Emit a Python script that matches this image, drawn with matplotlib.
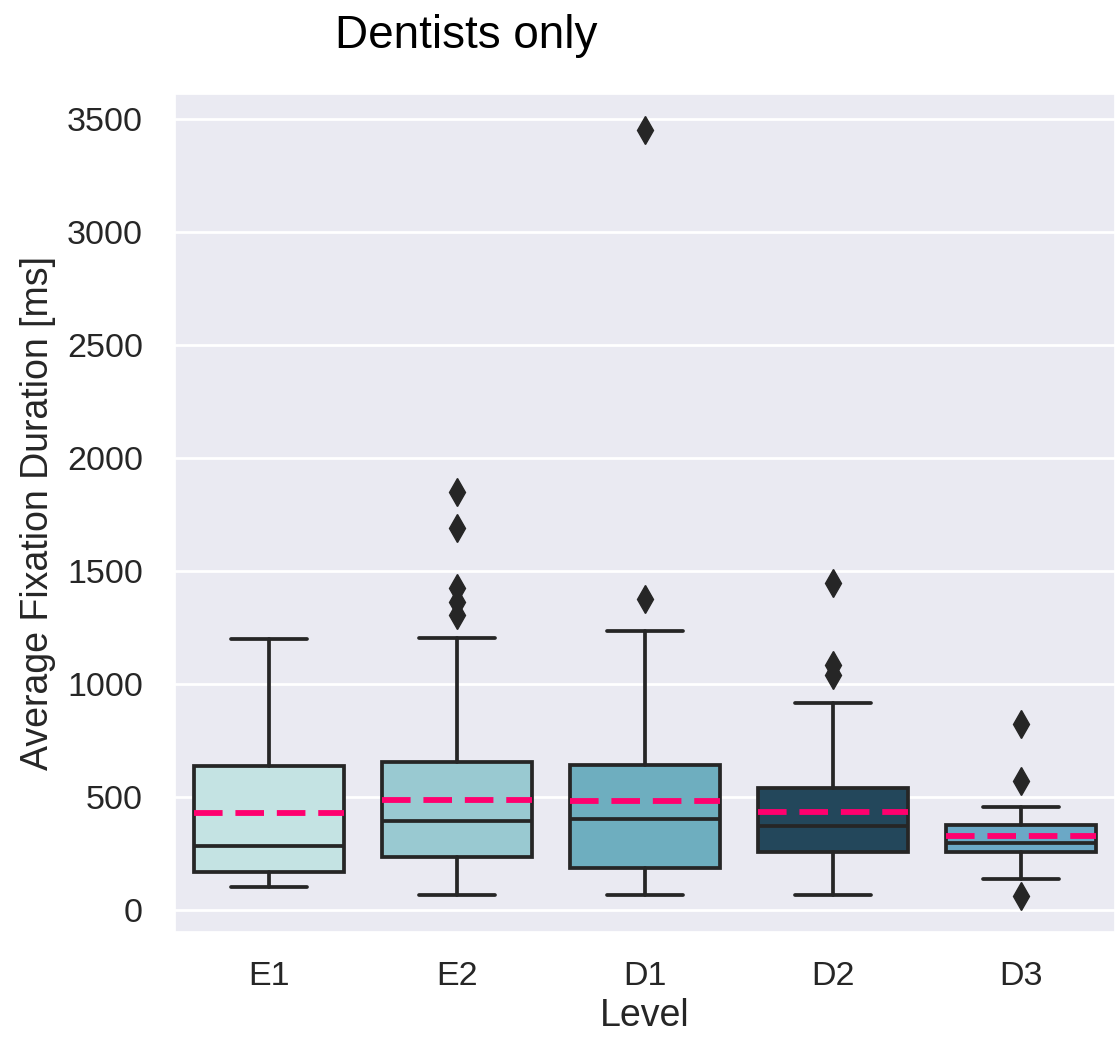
import matplotlib
matplotlib.use("Agg")
import matplotlib.pyplot as plt
import seaborn as sns

levels = ["E1", "E2", "D1", "D2", "D3"]
whisker_low = [100, 65, 65, 65, 137]
q1 = [170, 236, 187, 258, 257]
medians = [285, 394, 403, 372, 299]
q3 = [638, 656, 642, 541, 375]
whisker_high = [1199, 1205, 1235, 917, 456]
means = [428, 485, 482, 432, 329]
fliers = [
    [],
    [1305, 1365, 1425, 1690, 1850],
    [1376, 3452],
    [1040, 1084, 1447],
    [62, 572, 823],
]
colors = ["#c4e3e3", "#99c9d1", "#6eaebf", "#23475b", "#6ba8c6"]

sns.set_theme(style="darkgrid")
plt.rcParams["font.family"] = ["Liberation Sans", "DejaVu Sans"]

fig = plt.figure(figsize=(11.17, 10.41), dpi=100)
ax = fig.add_axes([175 / 1117, 1 - 932 / 1041, (1115 - 175) / 1117, (932 - 94) / 1041])

stats = []
for i, lab in enumerate(levels):
    stats.append(dict(label=lab, whislo=whisker_low[i], q1=q1[i], med=medians[i],
                      q3=q3[i], whishi=whisker_high[i], mean=means[i], fliers=fliers[i]))

edge = "#262626"
lw = 2.7
res = ax.bxp(stats, positions=range(len(levels)), widths=0.8, patch_artist=True,
             showmeans=True, meanline=True,
             boxprops=dict(edgecolor=edge, linewidth=lw),
             whiskerprops=dict(color=edge, linewidth=lw),
             capprops=dict(color=edge, linewidth=lw, solid_capstyle="round"),
             medianprops=dict(color=edge, linewidth=lw),
             meanprops=dict(color="#ff006e", linewidth=4.2, linestyle=(0, (4.9, 2.2))),
             flierprops=dict(marker="d", markersize=14, markerfacecolor=edge,
                             markeredgecolor=edge, linestyle="none"))
for patch, c in zip(res["boxes"], colors):
    patch.set_facecolor(c)
for m in res["means"]:
    m.set_zorder(5)

ax.set_xlim(-0.5, 4.5)
ax.set_ylim(-97, 3611)
ax.set_yticks([0, 500, 1000, 1500, 2000, 2500, 3000, 3500])
ax.set_xticks(range(len(levels)))
ax.set_xticklabels(levels)
ax.tick_params(axis="y", labelsize=24.5, labelcolor="#262626", pad=17)
ax.tick_params(axis="x", labelsize=24.5, labelcolor="#262626", pad=15)
ax.grid(True, axis="y", color="white", linewidth=2)
ax.grid(False, axis="x")
ax.set_xlabel("Level", fontsize=27, color="#262626", labelpad=4)
ax.set_ylabel("Average Fixation Duration [ms]", fontsize=27, color="#262626", labelpad=8)
fig.text(466 / 1117, 1 - 36 / 1041, "Dentists only", fontsize=33, color="black",
         ha="center", va="center")

fig.savefig("out.png", dpi=100)
